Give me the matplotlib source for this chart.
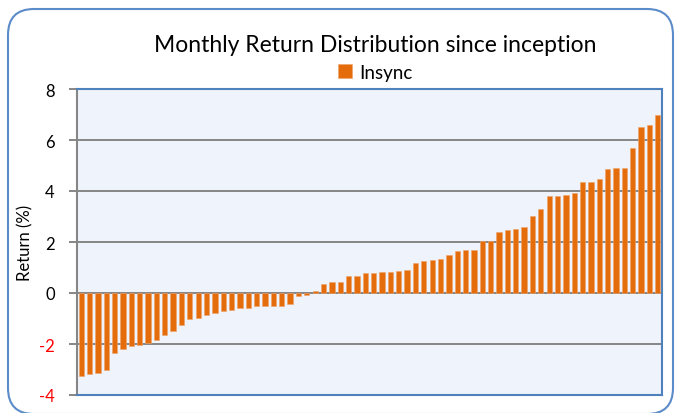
import matplotlib.pyplot as plt
from matplotlib.patches import FancyBboxPatch
import numpy as np

plt.rcParams['font.family'] = ['Lato', 'DejaVu Sans']
plt.rcParams['axes.unicode_minus'] = False

# monthly returns, sorted (%)
returns = [-3.24, -3.19, -3.14, -3.01, -2.37, -2.20, -2.08, -2.05, -1.95, -1.83,
           -1.66, -1.48, -1.27, -1.01, -0.97, -0.85, -0.78, -0.71, -0.65, -0.60,
           -0.58, -0.51, -0.51, -0.50, -0.50, -0.42, -0.12, -0.07, 0.08, 0.37,
           0.43, 0.43, 0.68, 0.68, 0.80, 0.80, 0.82, 0.84, 0.86, 0.90,
           1.18, 1.24, 1.29, 1.35, 1.48, 1.63, 1.70, 1.69, 2.03, 2.03,
           2.38, 2.48, 2.52, 2.58, 3.01, 3.28, 3.79, 3.82, 3.86, 3.93,
           4.35, 4.35, 4.46, 4.85, 4.90, 4.90, 5.70, 6.52, 6.59, 6.99]
yticks = [-4, -2, 0, 2, 4, 6, 8]
series_name = 'Insync'
title = 'Monthly Return Distribution since inception'

orange = '#E46C0A'
grey = '#868686'
blue = '#4F81BD'

W, H = 676, 414
fig = plt.figure(figsize=(W / 100, H / 100), dpi=100)

# outer rounded frame, drawn in pixel coords
bg = fig.add_axes([0, 0, 1, 1])
bg.set_xlim(0, W)
bg.set_ylim(H, 0)
bg.axis('off')
box = FancyBboxPatch((8, 10), 665, 405, boxstyle='round,pad=0,rounding_size=26',
                     fc='white', ec='#5B8BC8', lw=1.5, clip_on=False)
bg.add_patch(box)

ax = fig.add_axes([77 / W, 1 - 396 / H, (662 - 77) / W, (396 - 90) / H])
ax.set_facecolor('#EFF3FB')
x = np.arange(len(returns))
ax.bar(x, returns, width=0.64, color=orange, edgecolor='#F0A46A', linewidth=0.4,
       label=series_name, zorder=3)
ax.set_xlim(-0.5, len(returns) - 0.5)
ax.set_ylim(-4, 8)
ax.set_yticks(yticks)
for v in yticks[1:-1]:
    ax.axhline(v, color=grey, lw=1.4, zorder=2)
ax.set_xticks([])

for s in ['top', 'right', 'bottom']:
    ax.spines[s].set_color(blue)
    ax.spines[s].set_linewidth(1.5)
ax.spines['left'].set_color(grey)
ax.spines['left'].set_linewidth(1.5)
ax.tick_params(axis='y', length=6, width=1.4, color=grey, labelsize=12, pad=10)
for lbl, v in zip(ax.get_yticklabels(), yticks):
    lbl.set_color('red' if v < 0 else 'black')

ax.set_ylabel('Return (%)', fontsize=12)
ax.yaxis.set_label_coords(-0.075, 0.5)

fig.text(375 / W, 1 - 45 / H, title, ha='center', va='center', fontsize=16.5)
ax.legend(loc='center', bbox_to_anchor=(0.51, 1.055), frameon=False, fontsize=13.5,
          handlelength=0.75, handleheight=0.75, handletextpad=0.35, borderpad=0)

fig.savefig('out.png', dpi=100)
